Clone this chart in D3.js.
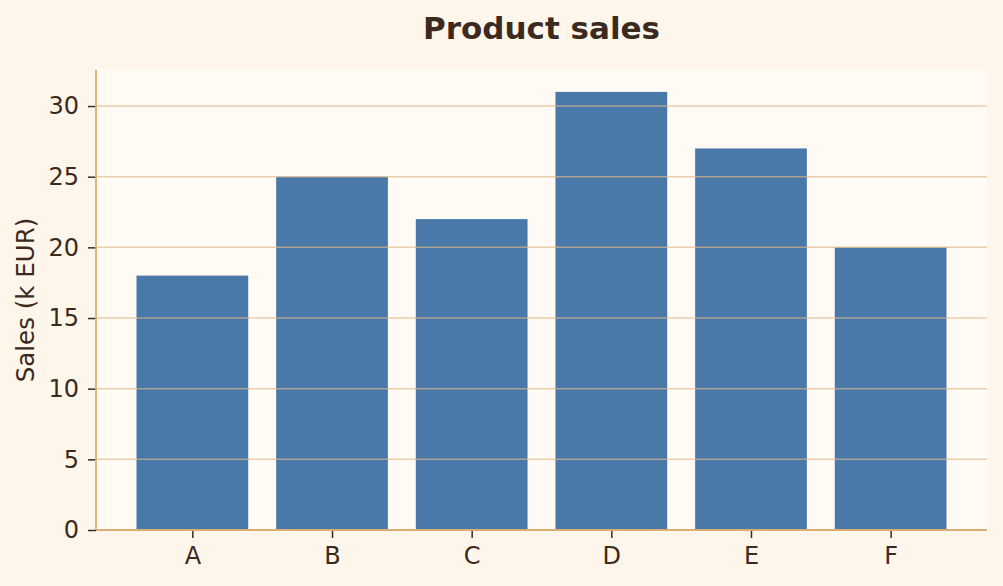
<!DOCTYPE html>
<html>
<head>
<meta charset="utf-8">
<script src="https://cdn.jsdelivr.net/npm/d3@7"></script>
<style>
	body { margin: 0; background: #fff6eb; }
	text { font-family: "DejaVu Sans", sans-serif; fill: #3b2a20; }
</style>
</head>
<body>
<div id="chart"></div>
<script>
let products = ["A", "B", "C", "D", "E", "F"];
let sales = [18, 25, 22, 31, 27, 20];
let yTicks = [0, 5, 10, 15, 20, 25, 30];

let WIDTH = 1003;
let HEIGHT = 586;
let margin = { top: 70, right: 16, bottom: 56, left: 96 };
let BAR_COLOR = "#4a78a8";

let svg = d3.select("#chart").append("svg").
	attr("width", WIDTH).
	attr("height", HEIGHT).
	style("display", "block");

svg.append("rect").
	attr("width", WIDTH).
	attr("height", HEIGHT).
	attr("fill", "#fff6eb");

let innerW = WIDTH - margin.left - margin.right;
let innerH = HEIGHT - margin.top - margin.bottom;

// matplotlib-ish limits: bar width 0.8 plus 5% margins
let n = products.length;
let x = d3.scaleLinear().
	domain([-0.4 - 0.05 * (n - 0.2), n - 0.6 + 0.05 * (n - 0.2)]).
	range([0, innerW]);
let y = d3.scaleLinear().
	domain([0, d3.max(sales) * 1.05]).
	range([innerH, 0]);

let g = svg.append("g").
	attr("transform", `translate(${margin.left}, ${margin.top})`);

g.append("rect").
	attr("width", innerW).
	attr("height", innerH).
	attr("fill", "#fffaf3");

g.selectAll("rect.bar").
	data(sales).
	join("rect").
	attr("class", "bar").
	attr("x", (d, i) => x(i - 0.4)).
	attr("width", (d, i) => x(i + 0.4) - x(i - 0.4)).
	attr("y", d => y(d)).
	attr("height", d => innerH - y(d)).
	attr("fill", BAR_COLOR);

// grid drawn over the bars
g.append("g").
	selectAll("line").
	data(yTicks.filter(t => t > 0)).
	join("line").
	attr("x1", 0).
	attr("x2", innerW).
	attr("y1", d => y(d)).
	attr("y2", d => y(d)).
	attr("stroke", "#deb887").
	attr("stroke-opacity", 0.65).
	attr("stroke-width", 1.5);

let yAxis = g.append("g").
	call(d3.axisLeft(y).tickValues(yTicks).tickSize(8).tickPadding(9));
let xAxis = g.append("g").
	attr("transform", `translate(0, ${innerH})`).
	call(d3.axisBottom(x).tickValues(d3.range(n)).tickFormat(i => products[i]).tickSize(8).tickPadding(9));

[yAxis, xAxis].forEach(ax => {
	ax.select(".domain").remove();
	ax.selectAll(".tick line").attr("stroke", "#3b2a20").attr("stroke-width", 1.5);
	ax.selectAll(".tick text").style("font-size", "24px").attr("fill", "#3b2a20");
});

// spines
g.append("line").
	attr("x1", 0).attr("x2", 0).
	attr("y1", 0).attr("y2", innerH).
	attr("stroke", "#d9ad74").attr("stroke-width", 1.8);
g.append("line").
	attr("x1", 0).attr("x2", innerW).
	attr("y1", innerH).attr("y2", innerH).
	attr("stroke", "#d9ad74").attr("stroke-width", 1.8);

svg.append("text").
	attr("x", margin.left + innerW / 2).
	attr("y", 39).
	attr("text-anchor", "middle").
	style("font-size", "31px").
	style("font-weight", "bold").
	text("Product sales");

svg.append("text").
	attr("transform", `translate(34, ${margin.top + innerH / 2}) rotate(-90)`).
	attr("text-anchor", "middle").
	style("font-size", "24.5px").
	text("Sales (k EUR)");
</script>
</body>
</html>
